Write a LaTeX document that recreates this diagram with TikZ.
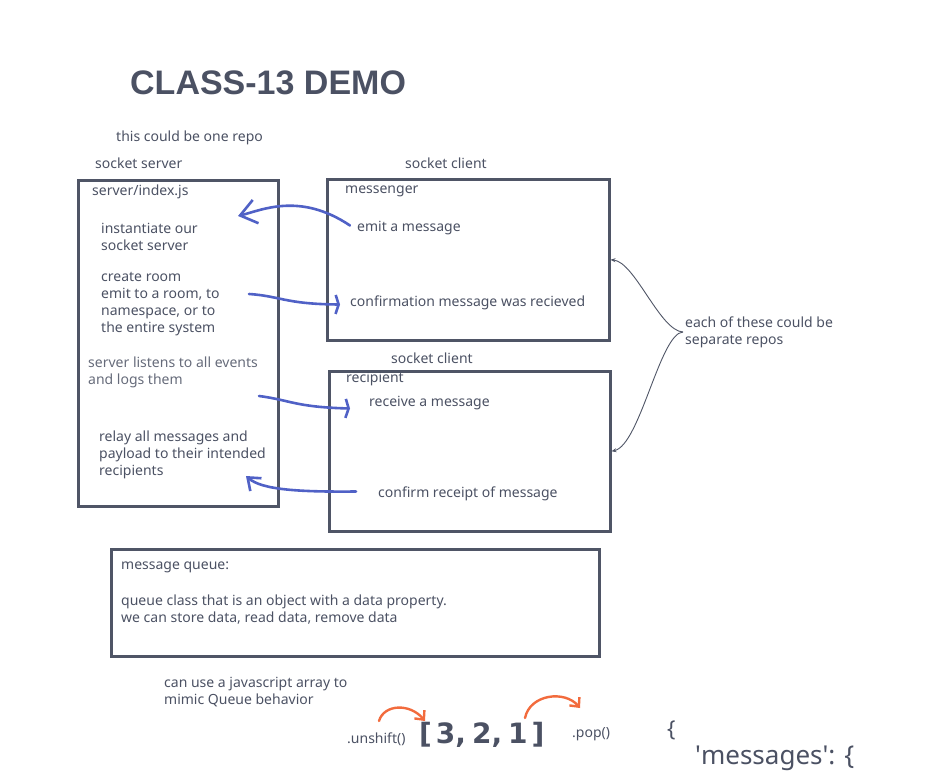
\documentclass[tikz,border=0pt]{standalone}
\usepackage{fontspec}
\setmainfont{Noto Sans}
\newfontfamily\headfont{Liberation Sans}
\newfontfamily\digitfont{DejaVu Sans}
\usepackage{tikz}
\usetikzlibrary{arrows.meta}
\definecolor{inkgray}{HTML}{4B5163}
\definecolor{boxgray}{HTML}{4F5566}
\definecolor{penblue}{HTML}{5061C6}
\definecolor{penorange}{HTML}{F26B3D}

\begin{document}
\begin{tikzpicture}[x=1pt,y=-1pt]
	\tikzset{every node/.style={inner sep=0pt,text=inkgray}}
	\tikzset{note/.style={anchor=west,align=left,font=\fontsize{14}{17}\selectfont}}
	\tikzset{box/.style={draw=boxgray,line width=2.5pt,anchor=north west}}
	\tikzset{pen/.style={draw=penblue,line width=2.6pt,line cap=round}}
	\tikzset{orangepen/.style={draw=penorange,line width=2.4pt,line cap=round}}
	\tikzset{brace/.style={draw=boxgray,line width=0.9pt,-{Stealth[length=5pt,width=4pt]}}}
	\useasboundingbox (0,0) rectangle (927,780);
	% boxes
	\node[box,minimum width=200pt,minimum height=326pt] (server) at (77,179) {};
	\node[box,minimum width=282pt,minimum height=161pt] (messenger) at (326,178) {};
	\node[box,minimum width=281pt,minimum height=160pt] (recipient) at (328,370) {};
	\node[box,minimum width=488pt,minimum height=107pt] (queue) at (110,548) {};
	% texts
	\node[anchor=west,font=\fontsize{34}{40}\headfont\bfseries] (title) at (130,83) {CLASS-13 DEMO};
	\node[note] (onerepo) at (116,138) {this could be one repo};
	\node[note] (serverlabel) at (95,163) {socket server};
	\node[note] (clientlabel1) at (405,163) {socket client};
	\node[note] (indexjs) at (92,192) {server/index.js};
	\node[note] (instantiate) at (101,237) {instantiate our\\socket server};
	\node[note] (room) at (101,304) {create room\\emit to a room, to\\namespace, or to\\the entire system};
	\node[note,text=inkgray!85] (listens) at (88,372) {server listens to all events\\and logs them};
	\node[note] (relay) at (99,454.5) {relay all messages and\\payload to their intended\\recipients};
	\node[note] (messengerlabel) at (345,191) {messenger};
	\node[note] (emit) at (357,228.5) {emit a message};
	\node[note] (confirmation) at (350,302.5) {confirmation message was recieved};
	\node[note] (clientlabel2) at (391,358) {socket client};
	\node[note] (recipientlabel) at (346,379) {recipient};
	\node[note] (receive) at (369,403.5) {receive a message};
	\node[note] (receipt) at (378,493.5) {confirm receipt of message};
	\node[note] (repos) at (685,332) {each of these could be\\separate repos};
	\node[note] (queuetitle) at (121,567.5) {message queue:};
	\node[note] (queuetext) at (121,609.5) {queue class that is an object with a data property.\\we can store data, read data, remove data};
	\node[note] (jsarray) at (164,692) {can use a javascript array to\\mimic Queue behavior};
	\node[anchor=west,font=\fontsize{14}{16}\selectfont] (unshift) at (347,739) {.unshift()};
	\node[anchor=west,font=\fontsize{28}{32}\digitfont\bfseries] (array) at (419,735) {[\hspace{4pt}3,\hspace{6pt}2,\hspace{6pt}1\hspace{4pt}]};
	\node[anchor=west,font=\fontsize{14}{16}\selectfont] (pop) at (572,734) {.pop()};
	\node[anchor=west,font=\fontsize{22}{26}\selectfont] (openbrace) at (667,730) {\{};
	\node[anchor=west,font=\fontsize{26}{30}\selectfont] (messages) at (695,758) {\textquotesingle messages\textquotesingle: \{};
	% free ends
	\coordinate (tipinst) at (238,216);
	\coordinate (startroom) at (249,294);
	\coordinate (startlisten) at (259,396);
	\coordinate (tiprelay) at (246,476);
	\coordinate (unshiftstart) at (379,721);
	\coordinate (unshifttip) at (425,721);
	\coordinate (popstart) at (525,718);
	\coordinate (poptip) at (580,708);
	% blue pen arrows
	\draw[pen,-{Straight Barb[length=16pt,width=24pt]}] ([xshift=-7pt,yshift=3pt]emit.west) .. controls (300,192) and (262,210) .. (tipinst);
	\draw[pen,-{Straight Barb[length=3pt,width=19pt]}] (startroom) .. controls (280,296) and (285,304) .. ([xshift=-10pt,yshift=-2pt]confirmation.west);
	\draw[pen,-{Straight Barb[length=3pt,width=19pt]}] (startlisten) .. controls (290,400) and (295,407) .. ([xshift=-19pt,yshift=-5pt]receive.west);
	\draw[pen,-{Straight Barb[length=11pt,width=17pt]}] ([xshift=-22pt,yshift=2pt]receipt.west) .. controls (300,492) and (262,490) .. (tiprelay);
	% grey braces to the clients
	\draw[brace] ([xshift=-2pt]repos.west) .. controls (660,331) and (635,262) .. (messenger.east);
	\draw[brace] ([xshift=-2pt]repos.west) .. controls (660,333) and (640,445) .. (recipient.east);
	% orange queue arrows
	\draw[orangepen,-{Straight Barb[length=7pt,width=13pt]}] (unshiftstart) .. controls (384,704) and (410,703) .. (unshifttip);
	\draw[orangepen,-{Straight Barb[length=7pt,width=13pt]}] (popstart) .. controls (530,694) and (565,690) .. (poptip);
\end{tikzpicture}
\end{document}
